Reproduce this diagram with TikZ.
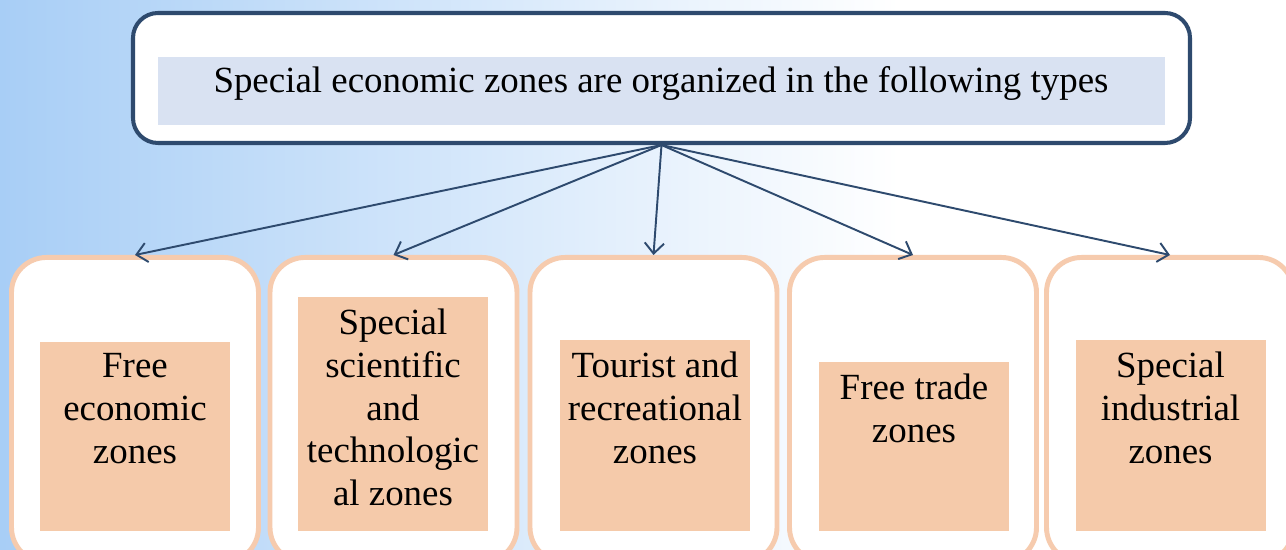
\documentclass[tikz,border=0pt]{standalone}
\usepackage{fontspec}
\setmainfont{Liberation Serif}
\usetikzlibrary{arrows.meta,positioning}

\definecolor{navy}{HTML}{2E4A6E}
\definecolor{peach}{HTML}{F5CAAA}
\definecolor{peachline}{HTML}{F6CBAE}
\definecolor{paleblue}{HTML}{D9E2F2}
\definecolor{skyblue}{HTML}{A8CEF6}

\begin{document}
\begin{tikzpicture}[
    zonebox/.style={draw=peachline,line width=2.8pt,fill=white,rounded corners=0.7cm,
      minimum width=4.94cm,minimum height=6.1cm,anchor=north},
    zonefill/.style={fill=peach,minimum width=3.8cm,anchor=south},
    zonetext/.style={anchor=north,align=center,inner sep=0pt,
      font=\fontsize{21}{24.4}\selectfont},
    link/.style={draw=navy,line width=1.1pt,-{Straight Barb[length=6pt,width=11pt]}}
  ]
  \useasboundingbox (0,0) rectangle (25.72,11);
  \clip (0,0) rectangle (25.72,11);

  % backdrop
  \fill[white] (0,0) rectangle (25.72,11);
  \shade[left color=skyblue,right color=white] (0,0) rectangle (18,11);

  % heading
  \node[draw=navy,line width=2.3pt,fill=white,rounded corners=0.5cm,
    minimum width=21.14cm,minimum height=2.6cm] (head) at (13.23,9.44) {};
  \node[fill=paleblue,minimum width=20.14cm,minimum height=1.36cm] (headfill) at (13.23,9.18) {};
  \node[zonetext] (headtext) at (13.22,9.67) {Special economic zones are organized in the following types};

  % zone boxes
  \node[zonebox] (zone1) at (2.7,5.9) {};
  \node[zonebox] (zone2) at (7.87,5.9) {};
  \node[zonebox] (zone3) at (13.07,5.9) {};
  \node[zonebox] (zone4) at (18.26,5.9) {};
  \node[zonebox] (zone5) at (23.4,5.9) {};

  \node[zonefill,minimum height=3.79cm] (fill1) at (2.7,0.37) {};
  \node[zonefill,minimum height=4.69cm] (fill2) at (7.86,0.37) {};
  \node[zonefill,minimum height=3.83cm] (fill3) at (13.1,0.37) {};
  \node[zonefill,minimum height=3.39cm] (fill4) at (18.28,0.37) {};
  \node[zonefill,minimum height=3.83cm] (fill5) at (23.41,0.37) {};

  \node[zonetext,below=0.24cm of fill1.north] (text1) {Free\\economic\\zones};
  \node[zonetext,below=0.24cm of fill2.north] (text2) {Special\\scientific\\and\\technologic\\al zones};
  \node[zonetext,below=0.24cm of fill3.north] (text3) {Tourist and\\recreational\\zones};
  \node[zonetext,below=0.24cm of fill4.north] (text4) {Free trade\\zones};
  \node[zonetext,below=0.24cm of fill5.north] (text5) {Special\\industrial\\zones};

  % arrows
  \draw[link] (head.south) -- (zone1.north);
  \draw[link] (head.south) -- (zone2.north);
  \draw[link] (head.south) -- (zone3.north);
  \draw[link] (head.south) -- (zone4.north);
  \draw[link] (head.south) -- (zone5.north);
\end{tikzpicture}
\end{document}
